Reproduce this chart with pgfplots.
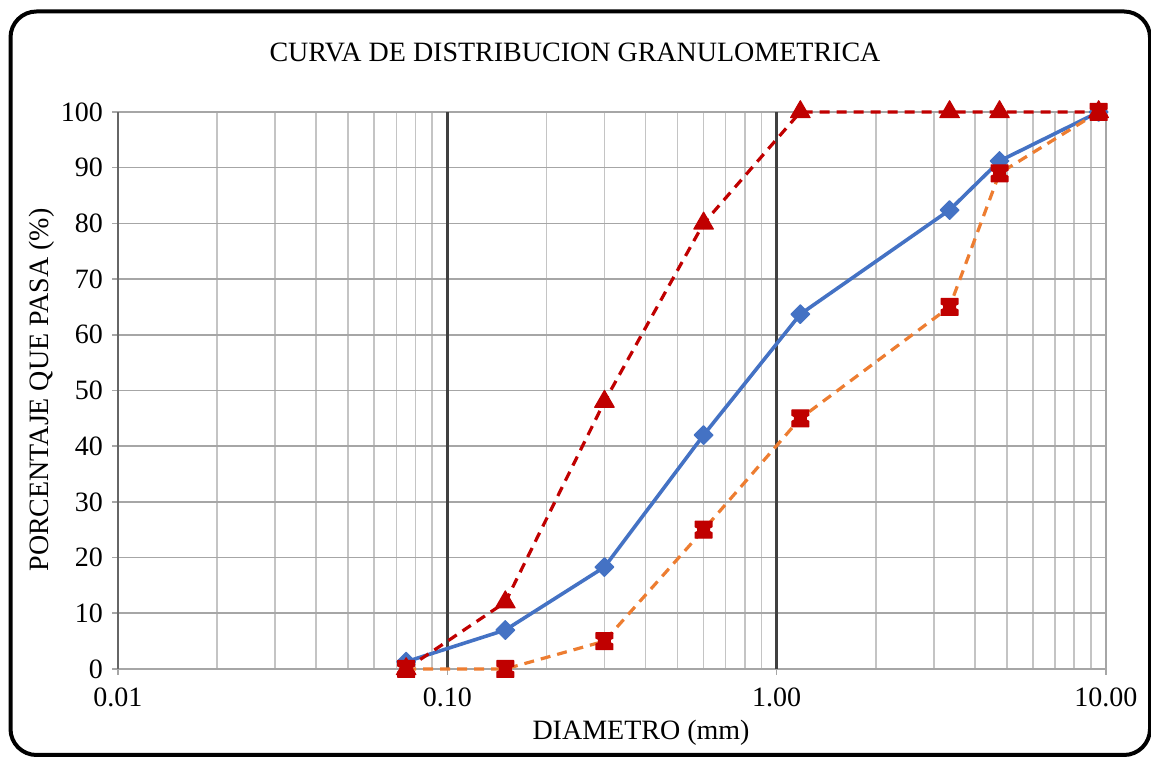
\documentclass[border=0pt]{standalone}
\usepackage{pgfplots}
\pgfplotsset{compat=1.18}
\usepackage{fontspec}
\setmainfont{Liberation Serif}

\definecolor{serieblue}{HTML}{4472C4}
\definecolor{seriered}{HTML}{C00000}
\definecolor{serieorange}{HTML}{ED7D31}
\definecolor{gridminor}{HTML}{C4C4C4}
\definecolor{gridmajor}{HTML}{A6A6A6}
\definecolor{griddark}{HTML}{404040}

% filled square with small notches on the sides
\pgfdeclareplotmark{spool}{%
  \pgfpathmoveto{\pgfqpoint{-\pgfplotmarksize}{\pgfplotmarksize}}%
  \pgfpathlineto{\pgfqpoint{\pgfplotmarksize}{\pgfplotmarksize}}%
  \pgfpathlineto{\pgfqpoint{\pgfplotmarksize}{0.35\pgfplotmarksize}}%
  \pgfpathlineto{\pgfqpoint{0.7\pgfplotmarksize}{0.2\pgfplotmarksize}}%
  \pgfpathlineto{\pgfqpoint{0.7\pgfplotmarksize}{-0.2\pgfplotmarksize}}%
  \pgfpathlineto{\pgfqpoint{\pgfplotmarksize}{-0.35\pgfplotmarksize}}%
  \pgfpathlineto{\pgfqpoint{\pgfplotmarksize}{-\pgfplotmarksize}}%
  \pgfpathlineto{\pgfqpoint{-\pgfplotmarksize}{-\pgfplotmarksize}}%
  \pgfpathlineto{\pgfqpoint{-\pgfplotmarksize}{-0.35\pgfplotmarksize}}%
  \pgfpathlineto{\pgfqpoint{-0.7\pgfplotmarksize}{-0.2\pgfplotmarksize}}%
  \pgfpathlineto{\pgfqpoint{-0.7\pgfplotmarksize}{0.2\pgfplotmarksize}}%
  \pgfpathlineto{\pgfqpoint{-\pgfplotmarksize}{0.35\pgfplotmarksize}}%
  \pgfpathclose
  \pgfusepathqfillstroke
}

\begin{document}
\begin{tikzpicture}
\useasboundingbox (0,0) rectangle (575.5pt,379.5pt);
\draw[line width=2pt, rounded corners=13pt] (5.25pt,2pt) rectangle (575pt,373.75pt);

\begin{axis}[
  at={(59pt,45pt)}, anchor=south west,
  scale only axis,
  width=494pt, height=278.5pt,
  xmode=log,
  xmin=0.01, xmax=10,
  ymin=0, ymax=100,
  xtick={0.01,0.1,1,10},
  xticklabels={0.01,0.10,1.00,10.00},
  ytick={0,10,...,100},
  axis x line=bottom, axis y line=left,
  axis line style={-, draw=gridmajor, line width=0.8pt},
  y axis line style={draw=griddark!80},
  tick align=outside,
  major tick length=3pt,
  minor tick length=0pt,
  tick style={draw=gridmajor, line width=0.8pt},
  xmajorgrids=true, xminorgrids=true, ymajorgrids=true,
  major grid style={draw=gridmajor, line width=0.8pt},
  minor grid style={draw=gridminor, line width=0.8pt},
  extra x ticks={0.1,1},
  extra x tick labels={},
  extra x tick style={grid=major, major grid style={draw=griddark, line width=1.3pt}, major tick length=0pt},
  /pgf/number format/assume math mode=true,
  tick label style={font=\fontsize{14}{16}\selectfont, black},
  xticklabel style={yshift=-3pt},
  yticklabel style={xshift=-1pt},
  clip=false,
]
% gradacion del agregado
\addplot[serieblue, line width=1.8pt, mark=square*, mark size=3.3pt,
  mark options={solid, rotate=45, fill=serieblue, draw=serieblue, line width=0.6pt, line join=round}]
  coordinates {(0.075,1.3) (0.15,7.0) (0.3,18.3) (0.6,42.0) (1.18,63.7) (3.35,82.4) (4.75,91.2) (9.5,100)};
% limite superior
\addplot[seriered, line width=1.6pt, dash pattern=on 5pt off 3.5pt, mark=triangle*, mark size=5.6pt,
  mark options={solid, fill=seriered, draw=seriered, line width=0.6pt, line join=round}]
  coordinates {(0.075,0) (0.15,12) (0.3,48) (0.6,80) (1.18,100) (3.35,100) (4.75,100) (9.5,100)};
% limite inferior
\addplot[serieorange, line width=1.6pt, dash pattern=on 5pt off 3.5pt, mark=spool, mark size=4.2pt,
  mark options={solid, fill=seriered, draw=seriered, line width=0.6pt, line join=round}]
  coordinates {(0.075,0) (0.15,0) (0.3,5) (0.6,25) (1.18,45) (3.35,65) (4.75,89) (9.5,100)};
\end{axis}

\node[font=\fontsize{14}{16}\selectfont] at (287.5pt,353.5pt) {CURVA DE DISTRIBUCION GRANULOMETRICA};
\node[font=\fontsize{14}{16}\selectfont, rotate=90] at (21pt,184.5pt) {PORCENTAJE QUE PASA (\%)};
\node[font=\fontsize{14}{16}\selectfont] at (320.5pt,13pt) {DIAMETRO (mm)};
\end{tikzpicture}
\end{document}
